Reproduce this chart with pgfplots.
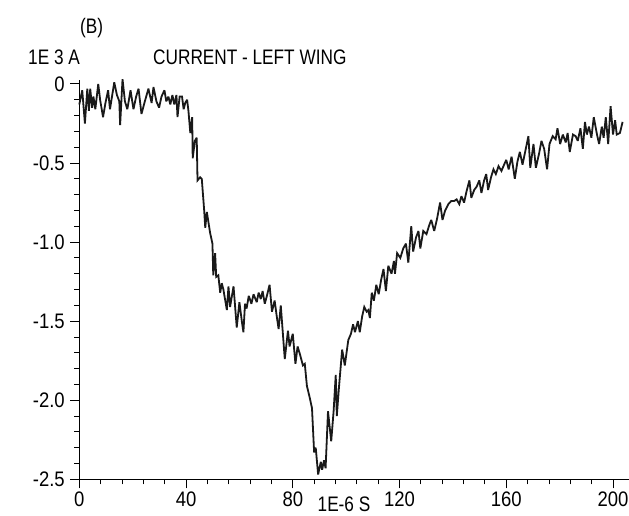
\documentclass[border=0pt]{standalone}
\usepackage{pgfplots}
\pgfplotsset{compat=1.18}
\usepackage{fontspec}
\setmainfont{Liberation Sans}[FakeStretch=0.82]
\newfontfamily\tickfont{Liberation Sans}[FakeStretch=0.88]
\begin{document}
\begin{tikzpicture}
\useasboundingbox (-79.3pt,-36.7pt) rectangle (549.7pt,479.3pt);
\begin{axis}[
    at={(0pt,0pt)}, anchor=south west,
    scale only axis, width=549.7pt, height=399.3pt,
    xmin=0, xmax=206, ymin=-2.5, ymax=0.025,
    axis lines=left,
    axis line style={-, line width=1pt},
    tick align=outside,
    major tick length=9pt, minor tick length=5pt,
    tick style={black, line width=0.9pt},
    xtick={0,40,80,120,160,200},
    xticklabels={0,40,80,120,160,200},
    minor x tick num=4,
    ytick={-2.5,-2,-1.5,-1,-0.5,0},
    yticklabels={-2.5,-2.0,-1.5,-1.0,-0.5,0},
    minor y tick num=4,
    ticklabel style={font=\tickfont\fontsize{21}{23}\selectfont},
    yticklabel style={xshift=-2pt},
    /pgf/number format/assume math mode=true,
    clip=false,
]
% current, left wing
\addplot[black!90, line width=1.8pt, line join=miter, miter limit=3] coordinates {
(0,-0.13) (1.1,-0.04) (2.1,-0.25) (3.0,-0.03) (3.6,-0.17) (4.1,-0.03) (4.8,-0.15)
(5.3,-0.08) (6.0,-0.16) (7.1,0.0) (7.8,-0.10) (8.9,-0.21) (9.8,-0.12) (10.8,-0.04)
(11.5,-0.16) (13.1,0.01) (14.1,-0.07) (15.0,-0.11) (15.3,-0.26) (16.2,0.03)
(17.1,-0.11) (18.0,-0.16) (19.2,-0.04) (20.3,-0.16) (21.3,-0.08) (22.2,-0.03)
(23.3,-0.19) (24.4,-0.12) (25.9,-0.03) (27.1,-0.12) (27.8,-0.02) (28.9,-0.11)
(29.9,-0.15) (30.8,-0.08) (31.9,-0.04) (32.6,-0.11) (33.4,-0.08) (34.1,-0.13)
(34.9,-0.07) (35.6,-0.13) (36.4,-0.07) (36.8,-0.21) (37.6,-0.08) (38.5,-0.08)
(39.1,-0.16) (39.7,-0.12) (40.4,-0.10) (40.9,-0.17) (41.6,-0.31) (42.3,-0.21)
(42.5,-0.47) (43.3,-0.36) (44.0,-0.34) (44.3,-0.61) (45.3,-0.59) (45.9,-0.60)
(46.8,-0.80) (47.2,-0.91) (47.8,-0.81) (49.0,-0.94) (49.9,-1.01) (50.2,-1.21)
(50.9,-1.07) (51.3,-1.22) (52.1,-1.21) (52.8,-1.32) (53.4,-1.26) (54.0,-1.30)
(55.3,-1.43) (55.9,-1.28) (56.5,-1.41) (57.8,-1.28) (59.0,-1.54) (60.0,-1.38)
(60.9,-1.50) (61.5,-1.57) (62.1,-1.39) (62.7,-1.42) (63.5,-1.34) (64.5,-1.39)
(65.3,-1.33) (66.5,-1.38) (67.2,-1.32) (68.0,-1.36) (68.7,-1.31) (69.5,-1.39)
(70.3,-1.34) (71.3,-1.27) (72.2,-1.44) (73.2,-1.37) (74.0,-1.47) (74.7,-1.55)
(75.5,-1.40) (77.0,-1.74) (78.2,-1.56) (78.8,-1.66) (80.0,-1.58) (81.0,-1.77)
(81.8,-1.66) (82.7,-1.71) (83.8,-1.78) (84.5,-1.77) (85.3,-1.91) (86.3,-1.98)
(87.2,-2.05) (88.0,-2.33) (88.6,-2.30) (89.5,-2.47) (90.5,-2.39) (91.0,-2.44)
(91.7,-2.38) (92.3,-2.43) (93.2,-2.07) (94.4,-2.26) (95.3,-2.07) (96.1,-1.84)
(96.5,-2.10) (97.3,-1.92) (98.5,-1.68) (99.5,-1.78) (100.8,-1.62) (101.8,-1.58)
(102.6,-1.52) (103.3,-1.57) (104.4,-1.50) (105.1,-1.57) (106.0,-1.47) (106.8,-1.41)
(107.7,-1.44) (108.3,-1.43) (108.9,-1.48) (109.6,-1.32) (110.4,-1.37) (111.3,-1.27)
(112.2,-1.33) (113.1,-1.24) (114.0,-1.17) (114.9,-1.31) (115.8,-1.15) (117.0,-1.20)
(117.9,-1.12) (118.3,-1.20) (119.1,-1.07) (120.3,-1.10) (121.4,-1.04) (122.4,-1.01)
(123.3,-1.13) (124.4,-0.90) (125.1,-1.06) (126.2,-0.97) (127.1,-0.93) (127.8,-1.04)
(128.9,-0.93) (130.1,-0.95) (131.2,-0.89) (131.9,-0.86) (133.0,-0.93) (134.1,-0.85)
(135.2,-0.75) (136.1,-0.86) (137.1,-0.80) (138.3,-0.76) (139.4,-0.74) (140.5,-0.74)
(141.4,-0.73) (142.4,-0.76) (143.2,-0.71) (144.2,-0.75) (145.1,-0.68) (146.2,-0.61)
(146.9,-0.72) (148.0,-0.67) (148.9,-0.65) (149.9,-0.61) (150.7,-0.69) (151.7,-0.61)
(152.5,-0.57) (153.2,-0.67) (154.3,-0.59) (155.2,-0.54) (156.1,-0.57) (157.1,-0.52)
(158.2,-0.55) (159.2,-0.51) (160.0,-0.48) (160.9,-0.54) (162.0,-0.46) (163.2,-0.60)
(164.2,-0.49) (165.1,-0.43) (166.1,-0.51) (167.2,-0.42) (168.3,-0.33) (169.0,-0.53)
(170.2,-0.38) (171.1,-0.53) (172.3,-0.44) (173.2,-0.36) (174.2,-0.41) (175.3,-0.54)
(176.2,-0.38) (177.4,-0.33) (178.5,-0.35) (179.2,-0.28) (180.2,-0.38) (181.2,-0.32)
(182.3,-0.37) (183.0,-0.31) (183.8,-0.43) (185.0,-0.32) (186.0,-0.33) (186.8,-0.36)
(187.8,-0.28) (188.7,-0.41) (189.5,-0.24) (190.2,-0.32) (191.0,-0.27) (191.9,-0.34)
(192.8,-0.21) (194.0,-0.32) (194.8,-0.38) (195.8,-0.27) (196.5,-0.34) (197.3,-0.21)
(198.2,-0.38) (199.1,-0.14) (200.0,-0.32) (200.8,-0.23) (201.4,-0.32) (202.6,-0.31)
(203.6,-0.24)
};
\end{axis}
\begin{scope}[every node/.style={inner sep=0pt, font=\fontsize{21}{23}\selectfont}]
\node[anchor=west] at (0.7pt,450.8pt) {(B)};
\node[anchor=west] at (-51.3pt,422.3pt) {1E 3 A};
\node[anchor=west] at (73.7pt,422.3pt) {CURRENT - LEFT WING};
\node[anchor=north] at (264.7pt,-17pt) {1E-6 S};
\end{scope}
\end{tikzpicture}
\end{document}
